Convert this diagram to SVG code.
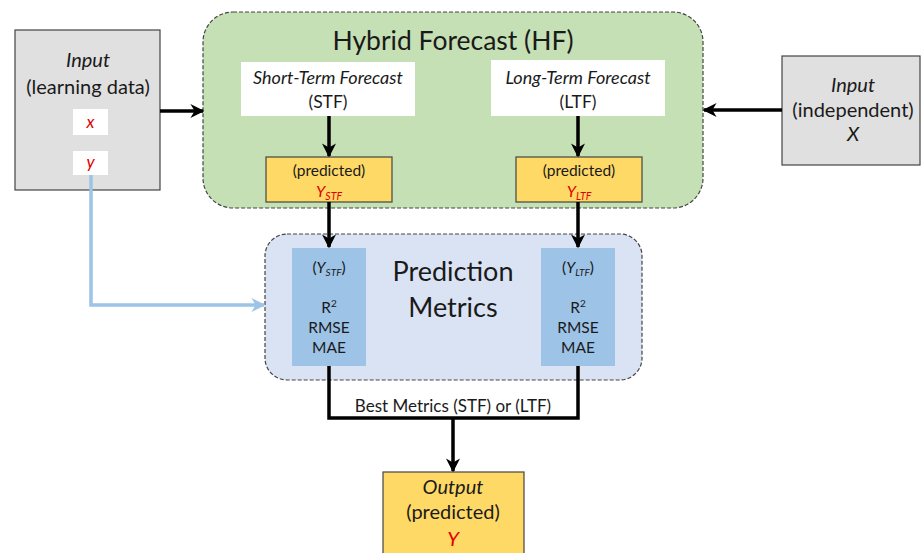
<svg xmlns="http://www.w3.org/2000/svg" width="921" height="553" viewBox="0 0 921 553">
<defs>
<marker id="ah" viewBox="0 0 10 10" refX="9" refY="5" markerWidth="4" markerHeight="4" orient="auto" markerUnits="strokeWidth"><path d="M0,0 L10,5 L0,10 L3,5 z" fill="#000"/></marker>
<marker id="ahb" viewBox="0 0 10 10" refX="9" refY="5" markerWidth="4" markerHeight="4" orient="auto" markerUnits="strokeWidth"><path d="M0,0 L10,5 L0,10 L3,5 z" fill="#9dc3e6"/></marker>
</defs>
<style>
text{font-family:Lato,"Open Sans","Liberation Sans",sans-serif;fill:#1a1a1a;text-anchor:middle}
.it{font-style:italic}
.red{fill:#e00000}
.gray{fill:#e0e0e0;stroke:#444;stroke-width:1.2}
.yel{fill:#ffd966;stroke:#444;stroke-width:1.2}
.wht{fill:#fff}
.conn{fill:none;stroke:#000;stroke-width:3.5}
</style>
<g id="hf">
<rect x="203" y="12" width="500" height="196" rx="30" fill="#c5e0b4" stroke="#444" stroke-width="1.2" stroke-dasharray="4,2"/>
<text x="453" y="50" font-size="26.5">Hybrid Forecast (HF)</text>
</g>
<g id="stf">
<rect class="wht" x="241" y="62" width="174" height="54"/>
<text class="it" x="328" y="84" font-size="18">Short-Term Forecast</text>
<text x="328" y="108" font-size="17.5">(STF)</text>
</g>
<g id="ltf">
<rect class="wht" x="491" y="60" width="174" height="56"/>
<text class="it" x="578" y="84" font-size="18">Long-Term Forecast</text>
<text x="578" y="108" font-size="17.5">(LTF)</text>
</g>
<g id="ystf">
<rect class="yel" x="266" y="157" width="126" height="45"/>
<text x="329" y="176" font-size="15.5">(predicted)</text>
<text class="it red" x="329" y="197" font-size="16">Y<tspan font-size="10.5" dy="3">STF</tspan></text>
</g>
<g id="yltf">
<rect class="yel" x="516" y="157" width="126" height="45"/>
<text x="579" y="176" font-size="15.5">(predicted)</text>
<text class="it red" x="579" y="197" font-size="16">Y<tspan font-size="10.5" dy="3">LTF</tspan></text>
</g>
<g id="input-learning">
<rect class="gray" x="15" y="30" width="145" height="160"/>
<text class="it" x="88" y="67" font-size="20">Input</text>
<text x="88" y="94" font-size="20">(learning data)</text>
<rect class="wht" x="73" y="109" width="35" height="26"/>
<text class="it red" x="90.5" y="128" font-size="17">x</text>
<rect class="wht" x="73" y="151" width="35" height="24"/>
<text class="it red" x="90.5" y="168" font-size="17">y</text>
</g>
<g id="input-independent">
<rect class="gray" x="782" y="56" width="138" height="109"/>
<text class="it" x="853" y="92" font-size="20">Input</text>
<text x="853" y="117" font-size="20">(independent)</text>
<text class="it" x="853" y="141" font-size="20">X</text>
</g>
<g id="metrics">
<rect x="265" y="234" width="377" height="146" rx="22" fill="#dae3f3" stroke="#444" stroke-width="1.2" stroke-dasharray="4,2"/>
<text x="453" y="281" font-size="27">Prediction</text>
<text x="453" y="317" font-size="27">Metrics</text>
</g>
<g id="m-stf">
<rect x="292" y="248" width="74" height="118" fill="#9dc3e6"/>
<text x="329" y="273" font-size="15.5">(<tspan class="it">Y</tspan><tspan class="it" font-size="10" dy="3">STF</tspan><tspan dy="-3">)</tspan></text>
<text x="329" y="313" font-size="15.5">R<tspan font-size="10" dy="-6">2</tspan></text>
<text x="329" y="333" font-size="15.5">RMSE</text>
<text x="329" y="353" font-size="15.5">MAE</text>
</g>
<g id="m-ltf">
<rect x="541" y="248" width="74" height="118" fill="#9dc3e6"/>
<text x="578" y="273" font-size="15.5">(<tspan class="it">Y</tspan><tspan class="it" font-size="10" dy="3">LTF</tspan><tspan dy="-3">)</tspan></text>
<text x="578" y="313" font-size="15.5">R<tspan font-size="10" dy="-6">2</tspan></text>
<text x="578" y="333" font-size="15.5">RMSE</text>
<text x="578" y="353" font-size="15.5">MAE</text>
</g>
<g id="output">
<rect class="yel" x="383" y="472" width="141" height="90"/>
<text class="it" x="453" y="494" font-size="20">Output</text>
<text x="453" y="519" font-size="20">(predicted)</text>
<text class="it red" x="453" y="546" font-size="20">Y</text>
</g>
<g id="connectors">
<line class="conn" x1="160" y1="111" x2="203" y2="111" marker-end="url(#ah)"/>
<line class="conn" x1="782" y1="110" x2="704" y2="110" marker-end="url(#ah)"/>
<line class="conn" x1="329" y1="116" x2="329" y2="156" marker-end="url(#ah)"/>
<line class="conn" x1="578" y1="116" x2="578" y2="156" marker-end="url(#ah)"/>
<line class="conn" x1="329" y1="202" x2="329" y2="247" marker-end="url(#ah)"/>
<line class="conn" x1="578" y1="202" x2="578" y2="247" marker-end="url(#ah)"/>
<polyline fill="none" stroke="#9dc3e6" stroke-width="3.5" points="91,175 91,305 264,305" marker-end="url(#ahb)"/>
<polyline class="conn" points="329,366 329,418 578,418 578,366"/>
<line class="conn" x1="453" y1="418" x2="453" y2="471" marker-end="url(#ah)"/>
<text x="453" y="412" font-size="17">Best Metrics (STF) or (LTF)</text>
</g>
</svg>
